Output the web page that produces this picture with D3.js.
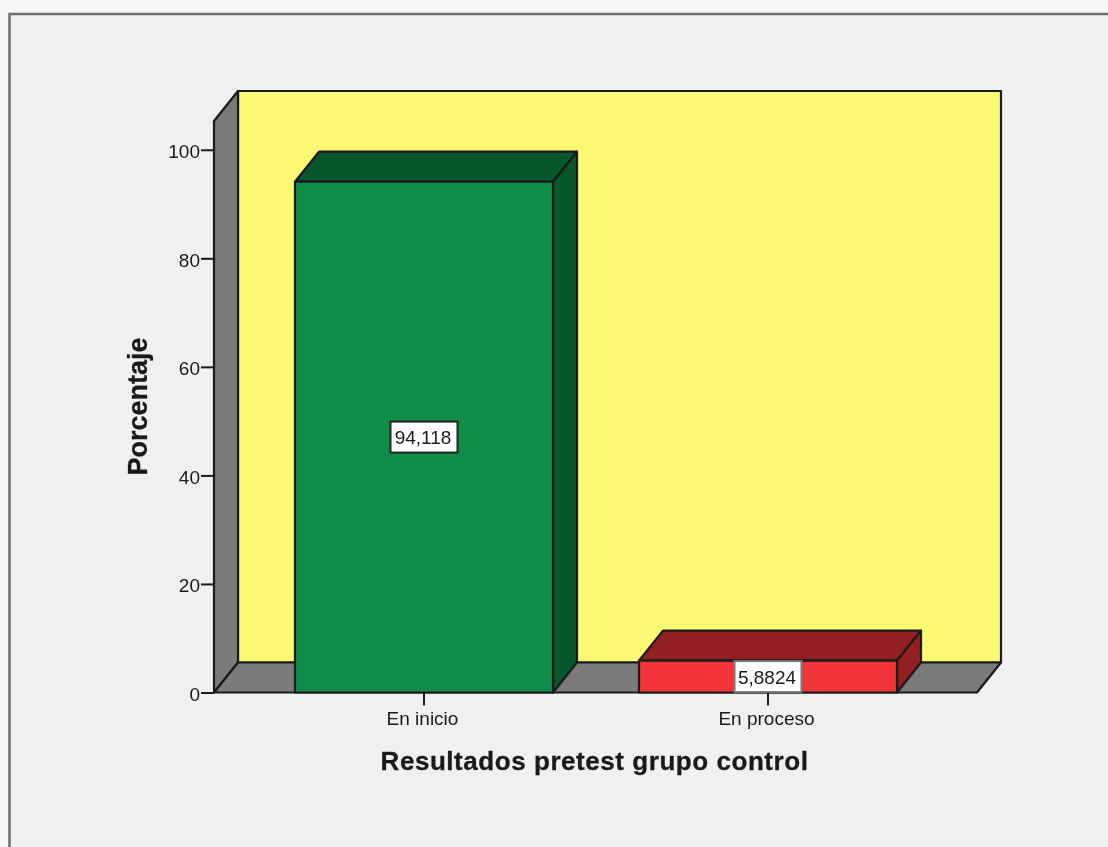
<!DOCTYPE html>
<html>
<head>
<meta charset="utf-8">
<script src="https://cdn.jsdelivr.net/npm/d3@7"></script>
<style>
    html, body { margin: 0; padding: 0; background: #f6f6f6; overflow: hidden; }
    svg { display: block; filter: blur(0.55px); }
    text { font-family: "Liberation Sans", Arial, sans-serif; fill: #1a1a1a; }
</style>
</head>
<body>
<div id="chart"></div>
<script>
const categories = ["En inicio", "En proceso"];
const values = [94.118, 5.8824];
const value_labels = ["94,118", "5,8824"];
const y_ticks = [0, 20, 40, 60, 80, 100];
const y_max = 105.3;
const front_colors = ["#108c49", "#f2333a"];
const top_colors = ["#08562b", "#941f23"];

const config = {
    width: 1108,
    height: 847,
    left: 214,
    right: 977,
    top: 121,
    bottom: 692.5,
    depthX: 24,
    depthY: 30,
    line: "#1a1a1a"
}

const svg = d3.select("#chart")
    .append("svg")
    .attr("width", config.width)
    .attr("height", config.height)

// window frame
svg.append("rect")
    .attr("x", 9.5).attr("y", 14)
    .attr("width", config.width + 20).attr("height", config.height + 20)
    .attr("fill", "#f0f0f0")
    .attr("stroke", "#707070")
    .attr("stroke-width", 2.5)

const scale_y = d3.scaleLinear()
    .domain([0, y_max])
    .range([config.bottom, config.top]);

const scale_x = d3.scaleBand()
    .domain(categories)
    .range([252, 940])
    .paddingInner(0.25)
    .paddingOuter(0.125);

const dx = config.depthX, dy = config.depthY;
const poly = (pts, fill) => svg.append("polygon")
    .attr("points", pts.map(p => p.join(",")).join(" "))
    .attr("fill", fill)
    .attr("stroke", config.line)
    .attr("stroke-width", 2.2)
    .attr("stroke-linejoin", "round")

// back wall, side wall, floor
poly([[config.left + dx, config.top - dy], [config.right + dx, config.top - dy],
      [config.right + dx, config.bottom - dy], [config.left + dx, config.bottom - dy]], "#fdf874")
poly([[config.left, config.top], [config.left + dx, config.top - dy],
      [config.left + dx, config.bottom - dy], [config.left, config.bottom]], "#7a7a7a")
poly([[config.left, config.bottom], [config.left + dx, config.bottom - dy],
      [config.right + dx, config.bottom - dy], [config.right, config.bottom]], "#7a7a7a")

// axes
const axis_y = d3.axisLeft(scale_y)
    .tickValues(y_ticks)
    .tickSize(13)
    .tickPadding(1);
const g_axisY = svg.append("g")
    .attr("transform", `translate(${config.left}, 0)`)
    .call(axis_y)
g_axisY.select(".domain").remove()
g_axisY.selectAll("line").attr("stroke", config.line).attr("stroke-width", 2)
g_axisY.selectAll("text").attr("font-size", 19).attr("fill", "#1a1a1a").attr("dy", "0.42em")

const axis_x = d3.axisBottom(scale_x)
    .tickSize(13)
    .tickPadding(6);
const g_axisX = svg.append("g")
    .attr("transform", `translate(0, ${config.bottom})`)
    .call(axis_x)
g_axisX.select(".domain").remove()
g_axisX.selectAll("line").attr("stroke", config.line).attr("stroke-width", 2)
g_axisX.selectAll("text").attr("font-size", 19).attr("fill", "#1a1a1a").attr("dx", -1.5)

// bars
categories.forEach((c, i) => {
    const x0 = scale_x(c), x1 = x0 + scale_x.bandwidth();
    const y0 = scale_y(0), y1 = scale_y(values[i]);
    poly([[x0, y1], [x0 + dx, y1 - dy], [x1 + dx, y1 - dy], [x1, y1]], top_colors[i])
    poly([[x1, y1], [x1 + dx, y1 - dy], [x1 + dx, y0 - dy], [x1, y0]], top_colors[i])
    poly([[x0, y1], [x1, y1], [x1, y0], [x0, y0]], front_colors[i])

    const cx = x0 + scale_x.bandwidth() / 2, cy = (y0 + y1) / 2;
    svg.append("rect")
        .attr("x", cx - 33.5).attr("y", cy - 15.5)
        .attr("width", 67).attr("height", 31)
        .attr("fill", "#ffffff")
        .attr("stroke", i == 0 ? "#222222" : "#777777")
        .attr("stroke-width", 2)
    svg.append("text")
        .attr("x", cx - 1).attr("y", cy + 7)
        .attr("text-anchor", "middle")
        .attr("font-size", 19)
        .text(value_labels[i])
})

// axis titles
svg.append("text")
    .attr("x", 594.5).attr("y", 770)
    .attr("text-anchor", "middle")
    .attr("font-size", 26)
    .attr("font-weight", "bold")
    .attr("letter-spacing", 0.55)
    .attr("stroke", "#1a1a1a")
    .attr("stroke-width", 0.3)
    .text("Resultados pretest grupo control")

svg.append("text")
    .attr("transform", "translate(147, 406.5) rotate(-90)")
    .attr("text-anchor", "middle")
    .attr("font-size", 27)
    .attr("font-weight", "bold")
    .attr("stroke", "#1a1a1a")
    .attr("stroke-width", 0.3)
    .text("Porcentaje")
</script>
</body>
</html>
